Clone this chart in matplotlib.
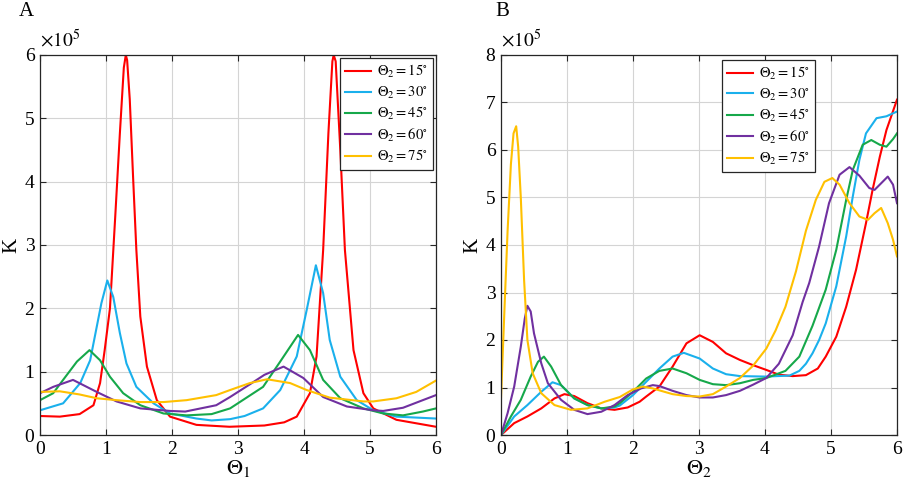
import matplotlib
matplotlib.use("Agg")
import matplotlib.pyplot as plt

plt.rcParams['font.family'] = ['Liberation Serif', 'DejaVu Serif']
plt.rcParams['mathtext.fontset'] = 'stix'

labels = [r'$\Theta_2=15^{\circ}$', r'$\Theta_2=30^{\circ}$', r'$\Theta_2=45^{\circ}$',
          r'$\Theta_2=60^{\circ}$', r'$\Theta_2=75^{\circ}$']
colors = ['#ff0000', '#1ab0ec', '#16a84a', '#7030a0', '#ffc000']

# ---- panel A : K (x1e5) vs Theta_1 ----
a15_x = [0, 0.3, 0.6, 0.81, 0.91, 0.98, 1.06, 1.14, 1.21, 1.27, 1.30, 1.32, 1.36, 1.41, 1.46,
         1.52, 1.62, 1.77, 1.97, 2.37, 2.87, 3.4, 3.7, 3.89, 4.09, 4.19, 4.29, 4.37, 4.43,
         4.45, 4.48, 4.55, 4.62, 4.75, 4.9, 5.05, 5.4, 6.0]
a15_y = [0.30, 0.29, 0.33, 0.47, 0.82, 1.34, 2.0, 3.45, 4.76, 5.8, 6.0, 5.92, 5.3, 4.08, 2.92,
         1.87, 1.08, 0.55, 0.29, 0.16, 0.13, 0.15, 0.2, 0.29, 0.66, 1.24, 2.92, 4.77, 5.9,
         6.0, 5.9, 4.5, 2.92, 1.34, 0.66, 0.42, 0.24, 0.13]
a30_x = [0, 0.35, 0.61, 0.76, 0.86, 0.93, 1.02, 1.11, 1.21, 1.31, 1.46, 1.72, 1.97, 2.37, 2.6,
         2.88, 3.1, 3.38, 3.64, 3.89, 4.04, 4.18, 4.29, 4.39, 4.55, 4.8, 5.05, 5.4, 6.0]
a30_y = [0.39, 0.5, 0.82, 1.18, 1.71, 2.08, 2.44, 2.18, 1.61, 1.13, 0.76, 0.5, 0.34, 0.26, 0.23,
         0.25, 0.3, 0.42, 0.71, 1.24, 1.97, 2.68, 2.24, 1.5, 0.92, 0.55, 0.39, 0.29, 0.26]
a45_x = [0, 0.2, 0.35, 0.56, 0.75, 0.91, 1.06, 1.26, 1.52, 1.87, 2.22, 2.6, 2.88, 3.38, 3.64,
         3.91, 4.09, 4.29, 4.55, 4.9, 5.2, 5.5, 5.8, 6.0]
a45_y = [0.55, 0.66, 0.87, 1.16, 1.34, 1.18, 0.92, 0.66, 0.47, 0.34, 0.31, 0.33, 0.42, 0.76, 1.16,
         1.58, 1.34, 0.87, 0.58, 0.42, 0.34, 0.31, 0.37, 0.42]
a60_x = [0, 0.2, 0.5, 0.86, 1.16, 1.52, 1.97, 2.2, 2.67, 2.88, 3.18, 3.4, 3.69, 3.99, 4.29,
         4.65, 5.05, 5.2, 5.5, 6.0]
a60_y = [0.66, 0.76, 0.87, 0.68, 0.53, 0.42, 0.38, 0.37, 0.47, 0.6, 0.8, 0.95, 1.08, 0.9, 0.6,
         0.45, 0.39, 0.38, 0.43, 0.63]
a75_x = [0, 0.3, 0.6, 0.86, 1.16, 1.52, 1.87, 2.22, 2.67, 2.88, 3.18, 3.44, 3.79, 4.04, 4.39,
         4.9, 5.05, 5.4, 5.7, 6.0]
a75_y = [0.68, 0.69, 0.64, 0.58, 0.55, 0.52, 0.52, 0.55, 0.63, 0.71, 0.82, 0.88, 0.82, 0.71, 0.59,
         0.53, 0.53, 0.58, 0.68, 0.86]

# ---- panel B : K (x1e5) vs Theta_2 ----
b15_x = [0, 0.2, 0.4, 0.61, 0.81, 0.96, 1.11, 1.31, 1.52, 1.72, 1.92, 2.1, 2.2, 2.4, 2.6, 2.81,
         3.01, 3.21, 3.41, 3.62, 3.82, 4.02, 4.21, 4.42, 4.62, 4.8, 4.92, 5.08, 5.23, 5.38,
         5.53, 5.63, 5.74, 5.84, 6.0]
b15_y = [0.0, 0.25, 0.39, 0.56, 0.77, 0.86, 0.82, 0.67, 0.56, 0.53, 0.58, 0.7, 0.81, 1.02, 1.44,
         1.93, 2.1, 1.96, 1.72, 1.58, 1.47, 1.37, 1.27, 1.24, 1.26, 1.4, 1.65, 2.07, 2.7, 3.48,
         4.46, 5.16, 5.86, 6.42, 7.06]
b30_x = [0, 0.2, 0.4, 0.61, 0.78, 0.91, 1.11, 1.31, 1.52, 1.72, 1.8, 2.0, 2.2, 2.4, 2.6, 2.77,
         3.01, 3.21, 3.41, 3.62, 4.0, 4.37, 4.52, 4.62, 4.72, 4.82, 4.92, 5.08, 5.23, 5.33,
         5.43, 5.53, 5.69, 5.84, 6.0]
b30_y = [0.0, 0.39, 0.63, 0.91, 1.11, 1.05, 0.77, 0.63, 0.56, 0.58, 0.62, 0.84, 1.12, 1.40, 1.65,
         1.73, 1.61, 1.40, 1.28, 1.24, 1.23, 1.25, 1.35, 1.5, 1.72, 2.0, 2.35, 3.13, 4.18, 5.02,
         5.79, 6.35, 6.67, 6.71, 6.81]
b45_x = [0, 0.15, 0.3, 0.45, 0.56, 0.65, 0.76, 0.91, 1.11, 1.31, 1.52, 1.72, 1.8, 2.0, 2.2, 2.4,
         2.6, 2.81, 3.01, 3.21, 3.41, 3.62, 3.82, 4.02, 4.31, 4.52, 4.72, 4.92, 5.08, 5.23,
         5.33, 5.48, 5.61, 5.74, 5.84, 5.94, 6.0]
b45_y = [0.0, 0.39, 0.74, 1.23, 1.54, 1.65, 1.44, 1.05, 0.77, 0.63, 0.56, 0.6, 0.67, 0.91, 1.19,
         1.35, 1.40, 1.30, 1.16, 1.07, 1.05, 1.09, 1.16, 1.2, 1.35, 1.65, 2.3, 3.06, 3.9, 4.95,
         5.58, 6.11, 6.21, 6.11, 6.07, 6.23, 6.35]
b60_x = [0, 0.1, 0.2, 0.3, 0.36, 0.4, 0.45, 0.5, 0.61, 0.71, 0.91, 1.11, 1.31, 1.52, 1.72, 1.92,
         2.12, 2.3, 2.4, 2.6, 2.81, 3.01, 3.21, 3.41, 3.62, 3.82, 4.02, 4.21, 4.42, 4.57, 4.67,
         4.82, 4.97, 5.13, 5.28, 5.43, 5.58, 5.66, 5.76, 5.86, 5.94, 6.0]
b60_y = [0.0, 0.46, 1.02, 1.86, 2.45, 2.72, 2.6, 2.14, 1.51, 1.09, 0.74, 0.53, 0.44, 0.49, 0.63,
         0.84, 0.98, 1.05, 1.03, 0.93, 0.84, 0.79, 0.79, 0.84, 0.93, 1.06, 1.2, 1.5, 2.1, 2.8,
         3.2, 3.97, 4.88, 5.48, 5.64, 5.46, 5.2, 5.16, 5.3, 5.44, 5.27, 4.88]
b75_x = [0, 0.05, 0.1, 0.15, 0.19, 0.23, 0.26, 0.3, 0.35, 0.4, 0.48, 0.61, 0.81, 1.06, 1.31,
         1.57, 1.8, 2.0, 2.15, 2.3, 2.6, 2.81, 3.01, 3.21, 3.41, 3.62, 3.82, 4.02, 4.16, 4.31,
         4.47, 4.62, 4.77, 4.9, 5.02, 5.13, 5.28, 5.43, 5.56, 5.66, 5.76, 5.86, 5.94, 6.0]
b75_y = [0.77, 2.56, 4.3, 5.7, 6.35, 6.5, 6.07, 5.0, 3.26, 2.0, 1.3, 0.88, 0.63, 0.53, 0.56,
         0.7, 0.8, 0.96, 1.02, 0.98, 0.86, 0.82, 0.81, 0.86, 1.02, 1.2, 1.46, 1.82, 2.2, 2.7,
         3.45, 4.3, 4.95, 5.33, 5.41, 5.27, 4.88, 4.6, 4.53, 4.67, 4.78, 4.46, 4.11, 3.76]

panel_a = [(a15_x, a15_y), (a30_x, a30_y), (a45_x, a45_y), (a60_x, a60_y), (a75_x, a75_y)]
panel_b = [(b15_x, b15_y), (b30_x, b30_y), (b45_x, b45_y), (b60_x, b60_y), (b75_x, b75_y)]


def style_axes(ax, ymax, xlabel):
    ax.set_xlim(0, 6)
    ax.set_ylim(0, ymax)
    ax.set_xticks(range(0, 7))
    ax.set_yticks(range(0, ymax + 1))
    ax.grid(True, color='#d4d4d4', linewidth=0.8)
    ax.set_axisbelow(True)
    ax.tick_params(direction='in', top=True, right=True, labelsize=14, length=4,
                   color='#262626', width=0.8, pad=4)
    for s in ax.spines.values():
        s.set_color('#262626')
        s.set_linewidth(0.9)
    ax.set_xlabel(xlabel, fontsize=16, labelpad=0)
    ax.set_ylabel('K', fontsize=15, labelpad=2)
    ax.text(0, 1.012, r'$\times10^5$', transform=ax.transAxes, fontsize=14,
            ha='left', va='bottom')


fig = plt.figure(figsize=(9.06, 4.84), dpi=100)
ax1 = fig.add_axes([40 / 906, 49 / 484, 396 / 906, 380 / 484])
ax2 = fig.add_axes([501 / 906, 49 / 484, 396 / 906, 380 / 484])

for (x, y), c, lab in zip(panel_a, colors, labels):
    ax1.plot(x, y, color=c, linewidth=1.5, label=lab)
for (x, y), c, lab in zip(panel_b, colors, labels):
    ax2.plot(x, y, color=c, linewidth=1.5, label=lab)

style_axes(ax1, 6, r'$\Theta_1$')
style_axes(ax2, 8, r'$\Theta_2$')

for ax, anchor, loc in [(ax1, (0.992, 0.992), 'upper right'), (ax2, (0.558, 0.987), 'upper left')]:
    leg = ax.legend(loc=loc, bbox_to_anchor=anchor, fontsize=10.5, fancybox=False,
                    framealpha=1, edgecolor='#262626', handlelength=1.8,
                    borderpad=0.35, labelspacing=0.3, handletextpad=0.4,
                    borderaxespad=0)
    leg.get_frame().set_linewidth(0.9)

fig.text(19 / 906, 1 - 11 / 484, 'A', fontsize=15, ha='left', va='center')
fig.text(495 / 906, 1 - 12 / 484, 'B', fontsize=15, ha='left', va='center')

fig.savefig('out.png', dpi=100)
